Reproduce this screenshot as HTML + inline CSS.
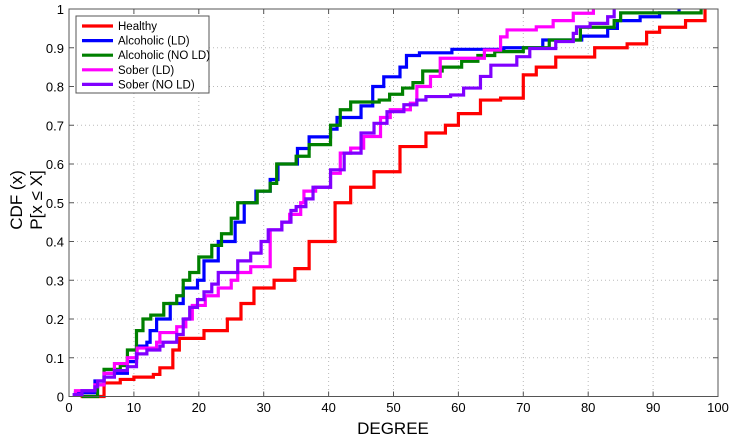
<!DOCTYPE html>
<html><head><meta charset="utf-8"><style>
body{margin:0;background:#fff;}
svg{display:block;font-family:"Liberation Sans",sans-serif;}
</style></head><body>
<svg id="chart" width="733" height="440" xmlns="http://www.w3.org/2000/svg">
<g id="grid"></g>
<g id="axes"></g>
<g id="series"></g>
<rect x="69" y="9" width="649" height="387.5" fill="none" stroke="#555" stroke-width="1"/>
<text x="393" y="434" font-size="17" text-anchor="middle">DEGREE</text>
<text transform="translate(22,200) rotate(-90)" font-size="17" text-anchor="middle">CDF (x)</text>
<text transform="translate(42,200) rotate(-90)" font-size="17" text-anchor="middle">P[x ≤ X]</text>
<g id="legend"></g>
</svg>
<script>
const xTicks=[0,10,20,30,40,50,60,70,80,90,100];
const yTicks=[0,0.1,0.2,0.3,0.4,0.5,0.6,0.7,0.8,0.9,1];
const yTickLabels=["0","0.1","0.2","0.3","0.4","0.5","0.6","0.7","0.8","0.9","1"];
const seriesNames=["Healthy","Alcoholic (LD)","Alcoholic (NO LD)","Sober (LD)","Sober (NO LD)"];
const seriesColors=["#ff0000","#0000ff","#008000","#ff00ff","#8000ff"];
const healthyX=[1.8,5.4,7.9,10,13,14,16,17,20.8,24.4,26.5,28.5,31.6,34.8,37,41,43.4,47,51,55,58,60,63.4,66.5,70,72,75,81,86,89,91,95,98];
const healthyY=[0,0.035,0.044,0.05,0.057,0.074,0.12,0.15,0.17,0.2,0.24,0.28,0.3,0.33,0.4,0.5,0.54,0.58,0.645,0.68,0.7,0.73,0.765,0.77,0.83,0.85,0.876,0.9,0.91,0.94,0.953,0.97,1];
const alcLdX=[1,4,5.4,9,10.4,12,12.5,13.5,15.6,17.6,19.8,20.8,23,25.6,27,28.8,31,32.2,35.2,37,40.3,41.3,45,46.8,48.5,51,52,54,59,67,73,79,83,84.5,88,91,94];
const alcLdY=[0.01,0.04,0.06,0.09,0.13,0.14,0.17,0.2,0.24,0.28,0.3,0.35,0.4,0.45,0.5,0.53,0.56,0.6,0.64,0.67,0.69,0.72,0.75,0.8,0.825,0.85,0.88,0.887,0.896,0.9,0.92,0.93,0.95,0.97,0.98,0.99,1];
const alcNoX=[2,4.4,5.4,7.9,9,10.4,11.4,12.6,14.6,16.6,17.6,18.6,20,22,23.5,25,26,29,31,32,35,37,40.3,41.8,43.4,47.8,49.4,51.4,53,54.5,57.5,60.5,63,65.6,70,74,78.8,84,85,97.4];
const alcNoY=[0,0.03,0.07,0.08,0.12,0.17,0.2,0.21,0.24,0.26,0.3,0.32,0.36,0.39,0.42,0.46,0.5,0.53,0.55,0.6,0.62,0.65,0.7,0.74,0.76,0.765,0.78,0.796,0.81,0.84,0.85,0.865,0.88,0.89,0.9,0.92,0.953,0.97,0.99,1];
const soberLdX=[1,4,5.4,7,9,10.5,13.5,14,16.6,18,19,21,23,25,26,28,31,32.8,34,35.7,36.2,38,40.3,41.8,43.4,45.4,48,49.5,52.6,53.6,55.7,57.2,62,64,66.5,67.5,72,74.6,77.7,80.8];
const soberLdY=[0.015,0.03,0.06,0.085,0.1,0.125,0.14,0.165,0.18,0.2,0.235,0.26,0.28,0.3,0.32,0.335,0.43,0.45,0.47,0.5,0.53,0.54,0.576,0.628,0.641,0.671,0.72,0.74,0.757,0.8,0.826,0.873,0.873,0.894,0.928,0.946,0.954,0.97,0.989,1];
const soberNoX=[0.8,2,4,4.4,5.4,7,9,10.4,12,14,14.5,16.6,17.6,18.6,19.8,20.8,22,23,26,28,29.6,30.7,32.8,34.2,35,36.5,37.6,40.3,42.4,45,47,49,51.6,53.6,55,58.8,60.8,63.4,65,69,71,75,77.7,78.2,80.3,83,84];
const soberNoY=[0.005,0.015,0.025,0.04,0.05,0.067,0.077,0.11,0.12,0.13,0.14,0.16,0.2,0.23,0.25,0.27,0.29,0.32,0.35,0.37,0.4,0.43,0.45,0.48,0.49,0.51,0.54,0.585,0.628,0.68,0.705,0.735,0.753,0.765,0.774,0.778,0.796,0.826,0.855,0.877,0.898,0.916,0.937,0.954,0.963,0.98,1];
const seriesX=[healthyX,alcLdX,alcNoX,soberLdX,soberNoX];
const seriesY=[healthyY,alcLdY,alcNoY,soberLdY,soberNoY];

const X0=69,X1=718,Y0=396.5,Y1=9;
const sx=v=>X0+(v-0)/(100-0)*(X1-X0);
const sy=v=>Y0-(v-0)/(1-0)*(Y0-Y1);
const NS="http://www.w3.org/2000/svg";
function mk(tag,attrs,parent){const e=document.createElementNS(NS,tag);for(const k in attrs)e.setAttribute(k,attrs[k]);parent.appendChild(e);return e;}
const grid=document.getElementById('grid'),axes=document.getElementById('axes'),ser=document.getElementById('series'),leg=document.getElementById('legend');
xTicks.forEach((t,i)=>{
  const x=sx(t);
  if(i>0&&i<xTicks.length-1){const g=mk('line',{x1:x,x2:x,y1:Y1,y2:Y0,stroke:'#bbb','stroke-dasharray':'1,3','stroke-width':1},grid);
  
  }
  mk('line',{x1:x,x2:x,y1:Y0,y2:Y0-5,stroke:'#555'},axes);
  mk('line',{x1:x,x2:x,y1:Y1,y2:Y1+5,stroke:'#555'},axes);
  const l=mk('text',{x:x,y:412,'font-size':13,'text-anchor':'middle'},axes);
  l.textContent=t;
  
  
});
yTicks.forEach((t,i)=>{
  const y=sy(t);
  if(i>0&&i<yTicks.length-1){const g=mk('line',{x1:X0,x2:X1,y1:y,y2:y,stroke:'#bbb','stroke-dasharray':'1,3','stroke-width':1},grid);
  
  }
  mk('line',{x1:X0,x2:X0+5,y1:y,y2:y,stroke:'#555'},axes);
  mk('line',{x1:X1,x2:X1-5,y1:y,y2:y,stroke:'#555'},axes);
  const l=mk('text',{x:64,y:y+5,'font-size':13,'text-anchor':'end'},axes);
  l.textContent=yTickLabels[i];
  
  
});
seriesX.forEach((xs,s)=>{
  const ys=seriesY[s];
  let d='M'+sx(xs[0])+','+sy(0)+' L'+sx(xs[0])+','+sy(ys[0]);
  for(let i=1;i<xs.length;i++){d+=' L'+sx(xs[i])+','+sy(ys[i-1])+' L'+sx(xs[i])+','+sy(ys[i]);}
  const p=mk('path',{d:d,fill:'none',stroke:seriesColors[s],'stroke-width':3.2,'stroke-linejoin':'miter'},ser);
  
  
});
const lb=mk('rect',{x:76,y:16,width:133,height:77,fill:'#fff',stroke:'#555','stroke-width':1},leg);


seriesNames.forEach((n,i)=>{
  const y=26+i*14.6;
  const ln=mk('line',{x1:82,x2:113,y1:y,y2:y,stroke:seriesColors[i],'stroke-width':3.2},leg);
  
  
  const t=mk('text',{x:118,y:y+4,'font-size':11.5},leg);
  t.textContent=n;
  
  
});
</script>
</body></html>
